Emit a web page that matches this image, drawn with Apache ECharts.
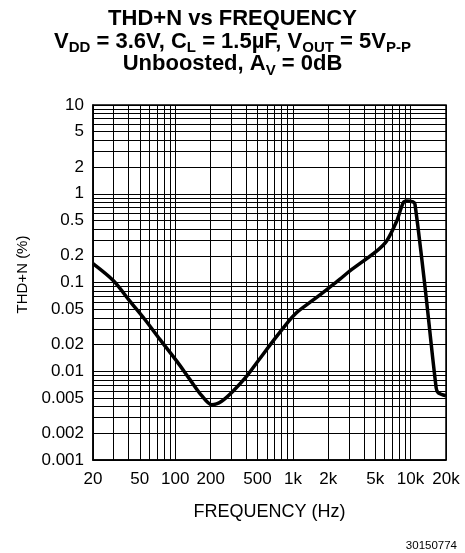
<!DOCTYPE html>
<html><head><meta charset="utf-8">
<script src="https://cdn.jsdelivr.net/npm/echarts@6/dist/echarts.min.js"></script>
<style>html,body{margin:0;padding:0;background:#fff}#c{width:465px;height:553px}</style>
</head><body><div id="c"></div>
<script>
// Frequency (Hz)
const freq = [20, 30, 41, 55, 74, 103, 133, 168, 204, 248, 311, 405, 500, 750, 1040, 1500, 2000, 2510, 3050, 5140, 6260, 7610, 8660, 9250, 10500, 10900, 13240, 16500, 17200, 20000];
// THD+N (%)
const thdn = [0.163, 0.104, 0.062, 0.0385, 0.0229, 0.013, 0.0081, 0.0053, 0.0042, 0.0046, 0.006, 0.0088, 0.0128, 0.026, 0.044, 0.064, 0.086, 0.109, 0.135, 0.226, 0.294, 0.49, 0.79, 0.83, 0.81, 0.76, 0.091, 0.0065, 0.0057, 0.0053];

const xGrid = [20,30,40,50,60,70,80,90,100,200,300,400,500,600,700,800,900,1000,2000,3000,4000,5000,6000,7000,8000,9000,10000,20000];
const xLabels = [20,50,100,200,500,1000,2000,5000,10000,20000];
const yGrid = [0.001,0.002,0.003,0.004,0.005,0.006,0.007,0.008,0.009,0.01,0.02,0.03,0.04,0.05,0.06,0.07,0.08,0.09,0.1,0.2,0.3,0.4,0.5,0.6,0.7,0.8,0.9,1,2,3,4,5,6,7,8,9,10];
const yLabels = [0.001,0.002,0.005,0.01,0.02,0.05,0.1,0.2,0.5,1,2,5,10];

const FONT = 'Liberation Sans, Arial, Helvetica, sans-serif';
const chart = echarts.init(document.getElementById('c'));
const data = freq.map((f, i) => [f, thdn[i]]);

chart.setOption({
  animation: false,
  title: {
    left: 'center', top: 8, padding: 0,
    text: '{b|THD+N vs FREQUENCY}\n{b|V}{s|DD}{b| = 3.6V, C}{s|L}{b| = 1.5µF, V}{s|OUT}{b| = 5V}{s|P-P}\n{b|Unboosted, A}{s|V}{b| = 0dB}',
    textStyle: {
      rich: {
        b: {fontFamily: FONT, fontWeight: 'bold', fontSize: 22, lineHeight: 22.5, color: '#000'},
        s: {fontFamily: FONT, fontWeight: 'bold', fontSize: 15, lineHeight: 10, padding: [12.5,0,0,0], color: '#000'}
      }
    }
  },
  graphic: [{
    type: 'text', right: 8, top: 540,
    style: {text: '30150774', font: '11.5px ' + FONT, fill: '#000'}
  }],
  grid: {left: 93, right: 19, top: 105, bottom: 93, show: true, borderColor: '#000', borderWidth: 1.5, containLabel: false},
  xAxis: {
    type: 'log', logBase: 10, min: 20, max: 20000,
    name: 'FREQUENCY (Hz)', nameLocation: 'middle', nameGap: 43,
    nameTextStyle: {fontFamily: FONT, fontSize: 18, color: '#000'},
    axisLine: {show: true, lineStyle: {color: '#000', width: 1.5}},
    axisTick: {show: false, customValues: xGrid},
    axisLabel: {customValues: xLabels, fontFamily: FONT, fontSize: 17, color: '#000', margin: 11,
      formatter: v => { const r = Math.round(v); return r >= 1000 ? (r/1000) + 'k' : String(r); }},
    splitLine: {show: true, lineStyle: {color: '#000', width: 1}}
  },
  yAxis: {
    type: 'log', logBase: 10, min: 0.001, max: 10,
    name: 'THD+N (%)', nameLocation: 'middle', nameGap: 60,
    nameTextStyle: {fontFamily: FONT, fontSize: 15, color: '#000', padding: [0, 0, 0, 16]},
    axisLine: {show: true, lineStyle: {color: '#000', width: 1.5}},
    axisTick: {show: false, customValues: yGrid},
    axisLabel: {customValues: yLabels, fontFamily: FONT, fontSize: 17, color: '#000', margin: 9,
      formatter: v => String(Number(v.toPrecision(2)))},
    splitLine: {show: true, lineStyle: {color: '#000', width: 1}}
  },
  series: [{
    type: 'line', data: data, showSymbol: false, smooth: 0.3,
    lineStyle: {color: '#000', width: 3.5}
  }]
});
</script></body></html>
